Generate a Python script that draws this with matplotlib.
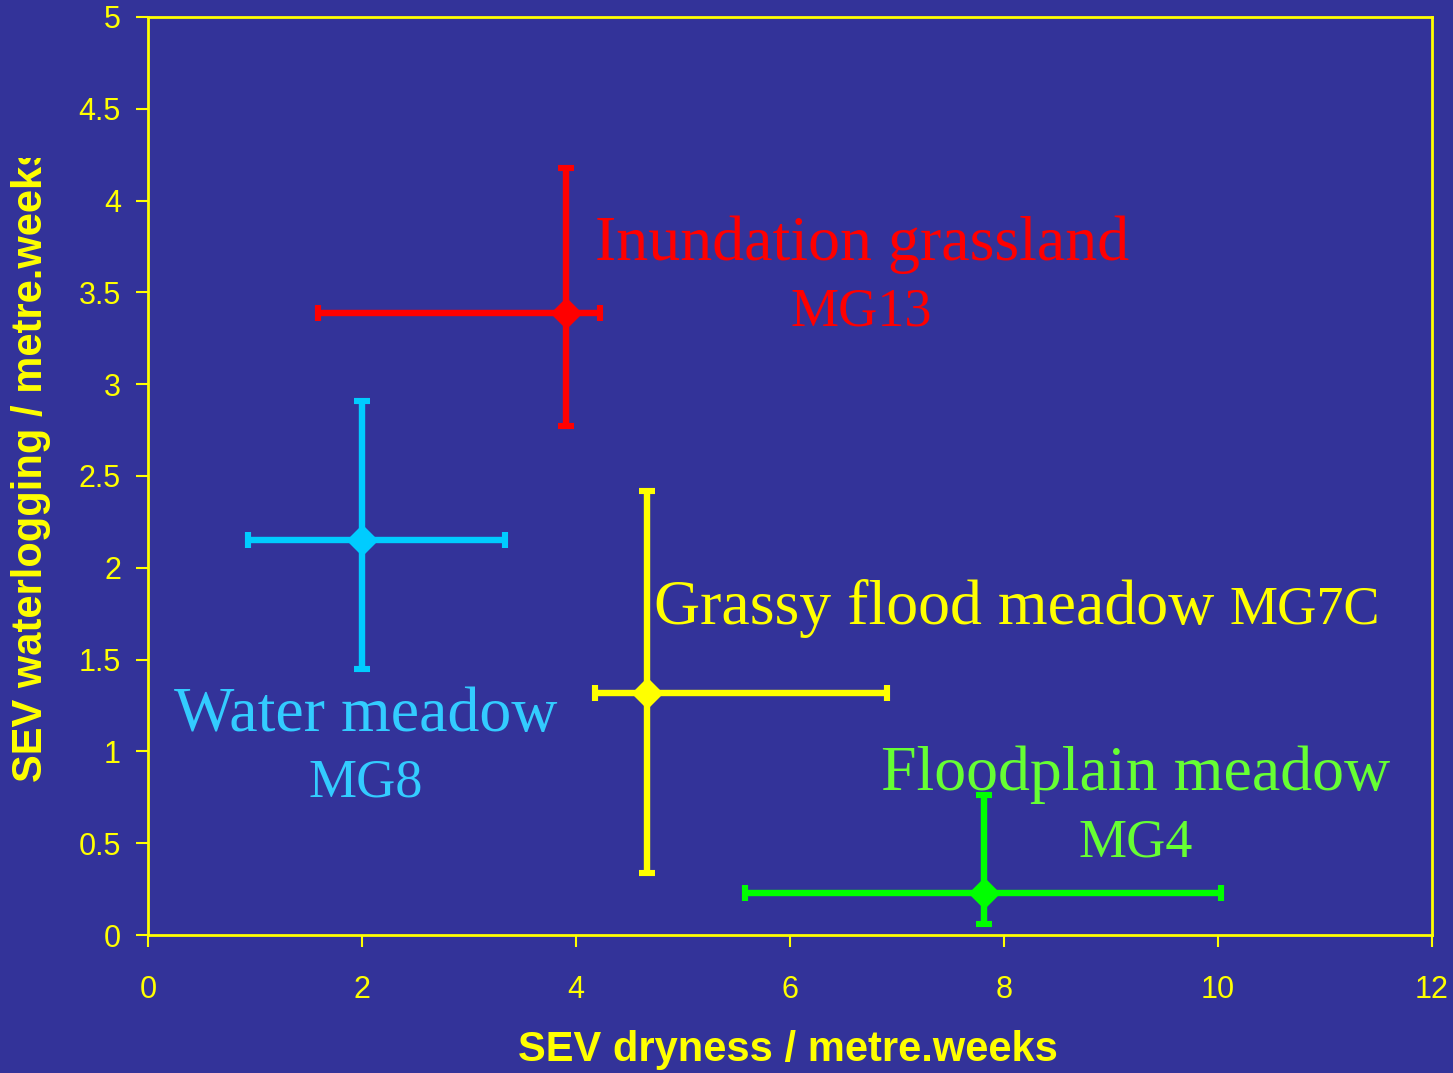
import matplotlib.pyplot as plt
from matplotlib.transforms import Bbox

# --- dados ---
comunidades = ['Inundation grassland', 'Water meadow', 'Grassy flood meadow', 'Floodplain meadow']
codigos = ['MG13', 'MG8', 'MG7C', 'MG4']
x_sev = [3.91, 2.00, 4.66, 7.81]
y_sev = [3.39, 2.15, 1.32, 0.23]
x_min = [1.59, 0.93, 4.18, 5.58]
x_max = [4.22, 3.34, 6.91, 10.03]
y_min = [2.77, 1.45, 0.34, 0.06]
y_max = [4.18, 2.91, 2.42, 0.76]
cores_barra = ['#ff0000', '#00ccff', '#ffff00', '#00ff00']
cores_texto = ['#ff0000', '#33ccff', '#ffff00', '#66ff33']

x_ticks = [0, 2, 4, 6, 8, 10, 12]
y_ticks = [0, 0.5, 1, 1.5, 2, 2.5, 3, 3.5, 4, 4.5, 5]
y_tick_labels = ['0', '0.5', '1', '1.5', '2', '2.5', '3', '3.5', '4', '4.5', '5']

fundo = '#333399'
amarelo = '#ffff00'

fig = plt.figure(figsize=(14.53, 10.73), dpi=100, facecolor=fundo)
ax = fig.add_axes([0.1019, 0.1286, 0.8836, 0.8556], facecolor=fundo)

for i in range(len(comunidades)):
    xerr = [[x_sev[i] - x_min[i]], [x_max[i] - x_sev[i]]]
    yerr = [[y_sev[i] - y_min[i]], [y_max[i] - y_sev[i]]]
    ax.errorbar([x_sev[i]], [y_sev[i]], xerr=xerr, yerr=yerr, fmt='D',
                color=cores_barra[i], mec=cores_barra[i], ms=15,
                elinewidth=4.6, capsize=5.6, capthick=4.4, zorder=3)

# rótulos das comunidades (nome grande, código menor)
serif = ['Liberation Serif', 'DejaVu Serif']
grande = 46
pequeno = 39
ax.text(6.67, 3.675, comunidades[0], color=cores_texto[0], fontsize=grande,
        family=serif, ha='center', va='baseline')
ax.text(6.67, 3.32, codigos[0], color=cores_texto[0], fontsize=pequeno,
        family=serif, ha='center', va='baseline')
ax.text(2.03, 1.11, comunidades[1], color=cores_texto[1], fontsize=grande,
        family=serif, ha='center', va='baseline')
ax.text(2.03, 0.755, codigos[1], color=cores_texto[1], fontsize=pequeno,
        family=serif, ha='center', va='baseline')
ax.text(4.73, 1.695, comunidades[2], color=cores_texto[2], fontsize=grande,
        family=serif, ha='left', va='baseline')
ax.text(11.51, 1.695, codigos[2], color=cores_texto[2], fontsize=pequeno,
        family=serif, ha='right', va='baseline')
ax.text(9.23, 0.79, comunidades[3], color=cores_texto[3], fontsize=grande,
        family=serif, ha='center', va='baseline')
ax.text(9.23, 0.43, codigos[3], color=cores_texto[3], fontsize=pequeno,
        family=serif, ha='center', va='baseline')

ax.set_xlim(0, 12)
ax.set_ylim(0, 5)
ax.set_xticks(x_ticks)
ax.set_yticks(y_ticks)
ax.set_yticklabels(y_tick_labels)

for s in ax.spines.values():
    s.set_color(amarelo)
    s.set_linewidth(2)

sans = ['Liberation Sans', 'DejaVu Sans']
ax.tick_params(axis='both', direction='out', length=8.5, width=1.5,
               colors=amarelo, labelsize=22)
ax.tick_params(axis='x', pad=20)
ax.tick_params(axis='y', pad=11)
for lbl in ax.get_xticklabels() + ax.get_yticklabels():
    lbl.set_family(sans)

fig.text(0.542, 0.0214, 'SEV dryness / metre.weeks', color=amarelo,
         fontsize=30, fontweight='bold', family=sans, ha='center', va='center')

# rótulo do eixo y cortado no topo, como no original
ylab = fig.text(31 / 1453, 1 - 782 / 1073, 'SEV waterlogging / metre.weeks',
                color=amarelo, fontsize=30, fontweight='bold', family=sans,
                rotation=90, ha='center', va='bottom')
ylab.set_clip_box(Bbox([[0, 0], [120, 1073 - 158]]))
ylab.set_clip_on(True)

fig.savefig('out.png', dpi=100, facecolor=fundo)
